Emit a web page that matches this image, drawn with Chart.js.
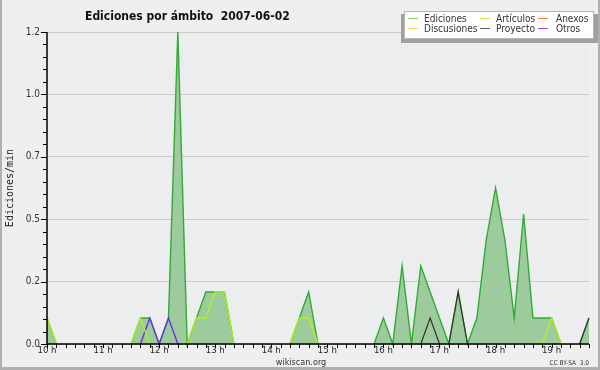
<!DOCTYPE html>
<html>
<head>
<meta charset="utf-8">
<script src="https://cdn.jsdelivr.net/npm/chart.js@4"></script>
<style>
  html, body { margin: 0; padding: 0; background: #efefef; }
  canvas { display: block; }
</style>
</head>
<body>
<canvas id="chart" width="600" height="370"></canvas>
<script>
// 10-minute buckets, 10:00 -> 19:40
const times = [];
for (let h = 10; h <= 19; h++) {
  for (let m = 0; m < 60; m += 10) {
    if (h === 19 && m > 40) break;
    times.push(h + ':' + String(m).padStart(2, '0'));
  }
}

// edits per minute
const ediciones   = [0.1, 0, 0, 0, 0, 0, 0, 0, 0, 0, 0.1, 0.1, 0, 0.1, 1.2, 0, 0.1, 0.2, 0.2, 0.2,
                     0, 0, 0, 0, 0, 0, 0, 0.1, 0.2, 0, 0, 0, 0, 0, 0, 0, 0.1, 0, 0.3, 0,
                     0.3, 0.2, 0.1, 0, 0.2, 0, 0.1, 0.4, 0.6, 0.4, 0.1, 0.5, 0.1, 0.1, 0.1, 0, 0, 0, 0.1];
const discusiones = [0, 0, 0, 0, 0, 0, 0, 0, 0, 0, 0, 0, 0, 0, 0, 0, 0, 0, 0, 0,
                     0, 0, 0, 0, 0, 0, 0, 0, 0, 0, 0, 0, 0, 0, 0, 0, 0, 0, 0, 0,
                     0, 0, 0, 0, 0, 0, 0, 0, 0, 0, 0, 0, 0, 0, 0, 0, 0, 0, 0];
const articulos   = [0.1, 0, 0, 0, 0, 0, 0, 0, 0, 0, 0.1, 0, 0, 0, 0, 0, 0.1, 0.1, 0.2, 0.2,
                     0, 0, 0, 0, 0, 0, 0, 0.1, 0.1, 0, 0, 0, 0, 0, 0, 0, 0, 0, 0, 0,
                     0, 0, 0, 0, 0, 0, 0, 0, 0, 0, 0, 0, 0, 0, 0.1, 0, 0, 0, 0];
const proyecto    = [0, 0, 0, 0, 0, 0, 0, 0, 0, 0, 0, 0, 0, 0, 0, 0, 0, 0, 0, 0,
                     0, 0, 0, 0, 0, 0, 0, 0, 0, 0, 0, 0, 0, 0, 0, 0, 0, 0, 0, 0,
                     0, 0.1, 0, 0, 0.2, 0, 0, 0, 0, 0, 0, 0, 0, 0, 0, 0, 0, 0, 0.1];
const anexos      = [0, 0, 0, 0, 0, 0, 0, 0, 0, 0, 0, 0, 0, 0, 0, 0, 0, 0, 0, 0,
                     0, 0, 0, 0, 0, 0, 0, 0, 0, 0, 0, 0, 0, 0, 0, 0, 0, 0, 0, 0,
                     0, 0, 0, 0, 0, 0, 0, 0, 0, 0, 0, 0, 0, 0, 0, 0, 0, 0, 0];
const otros       = [0, 0, 0, 0, 0, 0, 0, 0, 0, 0, 0, 0.1, 0, 0.1, 0, 0, 0, 0, 0, 0,
                     0, 0, 0, 0, 0, 0, 0, 0, 0, 0, 0, 0, 0, 0, 0, 0, 0, 0, 0, 0,
                     0, 0, 0, 0, 0, 0, 0, 0, 0, 0, 0, 0, 0, 0, 0, 0, 0, 0, 0];

const yTicks = [0, 0.24, 0.48, 0.72, 0.96, 1.2];

const COND = "'DejaVu Sans Condensed', 'DejaVu Sans', sans-serif";

// hide flat segments lying on the zero line
const hideZero = ctx => (ctx.p0.parsed.y === 0 && ctx.p1.parsed.y === 0) ? 'transparent' : undefined;

const series = [
  { label: 'Ediciones',   data: ediciones,   color: '#33aa33', legend: '#80cc80', width: 1.4, fill: true },
  { label: 'Discusiones', data: discusiones, color: '#f2cc33', legend: '#f5d44a', width: 1.4 },
  { label: 'Artículos',   data: articulos,   color: '#b0f01a', legend: '#c6ee4a', width: 1.4 },
  { label: 'Proyecto',    data: proyecto,    color: '#333333', legend: '#666666', width: 1.2 },
  { label: 'Anexos',      data: anexos,      color: '#ee7744', legend: '#f08050', width: 1.4 },
  { label: 'Otros',       data: otros,       color: '#6633dd', legend: '#9a4aee', width: 1.4 },
];

const frame = {
  id: 'frame',
  beforeDraw(chart) {
    const { ctx, chartArea: a } = chart;
    ctx.save();
    ctx.fillStyle = '#efefef';
    ctx.fillRect(0, 0, chart.width, chart.height);
    ctx.fillStyle = '#ecedef';
    ctx.fillRect(a.left, a.top, a.right - a.left, a.bottom - a.top);
    ctx.restore();
  },
  afterDatasetsDraw(chart) {
    const { ctx, chartArea: a, scales: { x, y } } = chart;
    ctx.save();
    ctx.strokeStyle = '#000';
    ctx.lineWidth = 1;
    ctx.beginPath();
    // y minor + major ticks
    for (let i = 0; i <= 25; i++) {
      const py = Math.round(y.getPixelForValue(i * 0.048)) + 0.5;
      const len = i % 5 === 0 ? 6 : 4;
      ctx.moveTo(a.left - len, py);
      ctx.lineTo(a.left, py);
    }
    // x ticks every 10 min
    for (let i = 0; i < times.length; i++) {
      const px = Math.round(x.getPixelForValue(i)) + 0.5;
      ctx.moveTo(px, a.bottom);
      ctx.lineTo(px, a.bottom + 4);
    }
    ctx.stroke();
    ctx.lineWidth = 1.5;
    ctx.beginPath();
    ctx.moveTo(a.left, a.top);
    ctx.lineTo(a.left, a.bottom);
    ctx.lineTo(a.right, a.bottom);
    ctx.stroke();
    ctx.restore();
  },
  afterDraw(chart) {
    const { ctx } = chart;
    ctx.save();
    // title
    ctx.fillStyle = '#111';
    ctx.font = "bold 12px " + COND;
    ctx.textBaseline = 'alphabetic';
    ctx.textAlign = 'left';
    ctx.fillText('Ediciones por ámbito  2007-06-02', 85, 20);

    // y axis title
    ctx.save();
    ctx.translate(13, 188);
    ctx.rotate(-Math.PI / 2);
    ctx.font = "10px 'DejaVu Sans Mono', monospace";
    ctx.textAlign = 'center';
    ctx.fillStyle = '#222';
    ctx.fillText('Ediciones/min', 0, 0);
    ctx.restore();

    // footer texts
    ctx.fillStyle = '#333';
    ctx.font = "9px " + COND;
    ctx.textAlign = 'center';
    ctx.fillText('wikiscan.org', 301, 365);
    ctx.font = "6.5px " + COND;
    ctx.textAlign = 'right';
    ctx.fillText('CC BY-SA  3.0', 589, 365);

    // legend box with shadow
    ctx.fillStyle = '#a0a0a0';
    ctx.fillRect(401, 14, 197, 29);
    ctx.fillStyle = '#fff';
    ctx.fillRect(404, 11, 190, 28);
    ctx.strokeStyle = '#b5b5b5';
    ctx.lineWidth = 1;
    ctx.strokeRect(404.5, 11.5, 189, 27);

    const lineX = [408, 480, 538];
    const textX = [424, 496, 556];
    const rowY = [19, 29];
    ctx.font = "10px " + COND;
    ctx.textAlign = 'left';
    ctx.textBaseline = 'middle';
    chart.data.datasets.forEach((ds, i) => {
      const col = Math.floor(i / 2), row = i % 2;
      const yy = rowY[row] - 0.5;
      ctx.strokeStyle = series[i].legend;
      ctx.lineWidth = 1;
      ctx.beginPath();
      ctx.moveTo(lineX[col], yy);
      ctx.lineTo(lineX[col] + 10, yy);
      ctx.stroke();
      ctx.fillStyle = '#333';
      ctx.fillText(ds.label, textX[col], rowY[row]);
    });

    // outer frame
    ctx.fillStyle = '#b0b0b0';
    ctx.fillRect(0, 0, 2, chart.height);
    ctx.fillRect(chart.width - 2, 0, 2, chart.height);
    ctx.fillRect(0, chart.height - 3, chart.width, 3);
    ctx.restore();
  }
};

new Chart(document.getElementById('chart'), {
  type: 'line',
  data: {
    labels: times,
    datasets: series.map((s, i) => ({
      label: s.label,
      data: s.data,
      borderColor: s.color,
      borderWidth: s.width,
      backgroundColor: s.fill ? '#9dcb9d' : s.color,
      fill: s.fill ? 'origin' : false,
      order: s.fill ? 10 : i,
      pointRadius: 0,
      tension: 0,
      clip: false,
      segment: { borderColor: hideZero },
    })),
  },
  options: {
    responsive: false,
    animation: false,
    devicePixelRatio: 1,
    layout: { padding: { left: 0, top: 32, right: 11, bottom: 0 } },
    plugins: {
      legend: { display: false },
      title: { display: false },
      tooltip: { enabled: false },
    },
    scales: {
      x: {
        type: 'category',
        offset: false,
        afterFit: s => { s.height = 26; },
        border: { display: false },
        grid: { display: false, drawTicks: false },
        ticks: {
          autoSkip: false,
          minRotation: 0,
          maxRotation: 0,
          padding: 1,
          color: '#222',
          font: { family: COND, size: 9.5 },
          callback: (v, i) => times[i].endsWith(':00') ? times[i].split(':')[0] + ' h' : '',
        },
      },
      y: {
        min: 0,
        max: 1.2,
        afterFit: s => { s.width = 47; },
        afterBuildTicks: s => { s.ticks = yTicks.map(v => ({ value: v })); },
        border: { display: false },
        grid: { color: '#cccccc', lineWidth: 1, drawTicks: false },
        ticks: {
          padding: 7,
          color: '#333',
          font: { family: COND, size: 10 },
          callback: v => v.toFixed(1),
        },
      },
    },
  },
  plugins: [frame],
});
</script>
</body>
</html>
